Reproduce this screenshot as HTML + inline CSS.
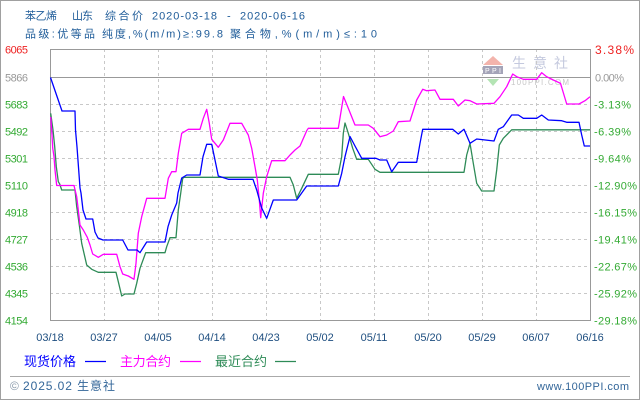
<!DOCTYPE html>
<html>
<head>
<meta charset="utf-8">
<style>
html,body{margin:0;padding:0;background:#fff;}
svg{display:block;}
text{font-family:"Liberation Sans","Noto Sans CJK SC",sans-serif;}
</style>
</head>
<body>
<svg width="640" height="400" viewBox="0 0 640 400" xmlns="http://www.w3.org/2000/svg">
<rect x="0.5" y="0.5" width="639" height="399" fill="#fff" stroke="#a0a0a0" stroke-width="1"/>

<!-- Title -->
<g fill="#1f5c99" font-size="11">
<text x="25" y="19.5" textLength="32">苯乙烯</text>
<text x="72" y="19.5" textLength="21">山东</text>
<text x="105" y="19.5" textLength="38">综合价</text>
<text x="152" y="19.5" textLength="65">2020-03-18</text>
<text x="227" y="19.5" textLength="5">-</text>
<text x="240" y="19.5" textLength="65">2020-06-16</text>
<text x="25" y="37.5" textLength="70">品级:优等品</text>
<text x="102" y="37.5" textLength="121">纯度,%(m/m)≥:99.8</text>
<text x="230" y="37.5" textLength="147">聚合物,%(m/m)≤:10</text>
</g>

<!-- Watermark -->
<g>
<polygon points="493,56 483,65 503,65" fill="#f3b4ac"/>
<rect x="483" y="66" width="20" height="8" fill="#a4a4b8"/>
<text x="485" y="73" font-size="7" fill="#fff" textLength="16">PPI</text>
<polygon points="487,79 499,79 493,86" fill="#b4e4b4"/>
<text x="512" y="68" font-size="14" fill="#c4c9de" letter-spacing="7">生意社</text>
<text x="511" y="85" font-size="8" fill="#c8c8c8" textLength="58">100PPI.COM</text>
</g>

<!-- Grid -->
<g stroke="#c8c8c8" stroke-width="1" stroke-dasharray="3,3" fill="none">
<line x1="50" y1="104.5" x2="590" y2="104.5"/>
<line x1="50" y1="131.5" x2="590" y2="131.5"/>
<line x1="50" y1="158.5" x2="590" y2="158.5"/>
<line x1="50" y1="185.5" x2="590" y2="185.5"/>
<line x1="50" y1="212.5" x2="590" y2="212.5"/>
<line x1="50" y1="239.5" x2="590" y2="239.5"/>
<line x1="50" y1="266.5" x2="590" y2="266.5"/>
<line x1="50" y1="293.5" x2="590" y2="293.5"/>
<line x1="104.5" y1="49" x2="104.5" y2="320"/>
<line x1="158.5" y1="49" x2="158.5" y2="320"/>
<line x1="212.5" y1="49" x2="212.5" y2="320"/>
<line x1="266.5" y1="49" x2="266.5" y2="320"/>
<line x1="320.5" y1="49" x2="320.5" y2="320"/>
<line x1="374.5" y1="49" x2="374.5" y2="320"/>
<line x1="428.5" y1="49" x2="428.5" y2="320"/>
<line x1="482.5" y1="49" x2="482.5" y2="320"/>
<line x1="536.5" y1="49" x2="536.5" y2="320"/>
</g>
<line x1="50" y1="77.5" x2="590" y2="77.5" stroke="#999" stroke-width="1"/>
<rect x="50.5" y="49.5" width="540" height="271" fill="none" stroke="#999" stroke-width="1"/>

<!-- Series -->
<g fill="none" stroke-width="1.3" stroke-linejoin="round">
<polyline stroke="#2e8b57" points="50.7,113.3 53,130 54.7,146.7 56.3,166.7 58.3,181.7 59.7,184 61.7,190 75,190 76.7,206.7 79.3,225 81.7,243.3 86.7,265 91.7,269.3 98.3,272.3 116,272.3 118.3,281.7 121.7,296 125,294 134,294 136.7,283.3 140,268.3 145.7,252.7 165,252.7 166.7,246.7 170,237.7 176,237.7 178.3,210 180.7,193.3 182.7,178.3 184,177.3 290,177.3 293.3,185 296.7,198.3 301.7,188.3 308.3,174.3 338.3,174.3 341.7,156.7 343.3,133.3 345,123 348.3,133.3 352.7,148.3 356.7,159.3 368.3,159.3 375,169.3 380,172.3 464,172.3 466.7,155 470,143.3 473.3,163.3 476.7,183.3 481.7,191 494,191 496.7,170 499.3,145 503.3,138.3 511.7,129.8 590,129.8"/>
<polyline stroke="#ff00ff" points="50.7,117 52,135 52.7,148 54,156.7 55,170 56.7,185.5 74,185.5 76.7,196.7 78.3,210 80,225 83.3,230 87.3,237.3 90,245 92.7,254 98.3,257.3 103.3,254.3 116.7,254.3 120,266.7 122.7,274 128.3,276 134,279.3 136,263.3 138.3,233.3 141.7,216.7 146.7,198.3 165,198.3 168.3,178.3 171.7,171.7 176,171.7 178.3,153.3 181.7,133.3 188.3,129.3 200,129.3 203.3,118.3 206.7,109.3 209.3,123.3 211.7,139.3 218.3,147.3 223.3,140 230,123.3 241.7,123.3 248.3,135 251.7,148.3 255,166.7 257.3,180 259.3,200 260.7,217.7 263.3,193.3 266.7,176.7 271.7,160.7 285,160.7 290,155 295,150 300,146 306.7,130.7 308.3,128.3 338.3,128.3 343.5,96.5 348.3,108.3 355,125 368.3,125 373.3,128.3 380,136.7 386.7,135 393.3,131 398.3,121.7 410,121 416.7,100 422.7,89.3 426.7,90.7 435,90 440,99.3 453.3,99.3 458.3,106 465,100 470,100.7 476.7,104 494,103.3 500,96.7 506.7,86.7 512.7,74 516.7,76.7 523.3,79.3 536.7,79.3 541.7,72.7 546.7,76.7 553.3,80 560.5,83.3 566.7,104 579,104 585,100.7 590,96.7"/>
<polyline stroke="#0000ff" points="50.5,77.5 62,111 75,111 75.5,130 77,147 78.7,170 80,188 81,193 83,210 86,219 92.7,219 95,232 98,238 103,240 122.7,240 128,250 137,250 140,252.7 146.7,242 165,242 168,226.7 171.7,215 176.7,203 178,193 181.7,178 186.7,175 200,175 203,156.7 206.7,144.3 211.7,144.3 215,160 218.3,176 228.3,179.3 253,179.3 256.7,190 261.7,208 266.7,218.3 273.3,200 296.7,200 306.7,186 338.3,186 341.7,173.3 345,156.7 350,136.5 355,146 361.7,158.3 376,158.3 380,160 386.7,160 391.7,171.7 398.3,162.3 416.7,162.3 420,143.3 422.7,129.3 452.7,129.3 458.3,134 464,129.3 470,143.3 476.7,139 494,141 498.3,129.3 503.3,126.7 511.7,115 518.3,115 523.3,118.3 536.7,118.3 541.7,115 548.3,120 561.7,120.7 566.7,122.3 579,122.3 581.7,135 584.3,146 590,146"/>
</g>

<!-- Left axis labels -->
<g font-size="11">
<text x="5" y="53.5" fill="#ee2222" textLength="23">6065</text>
<text x="5" y="81.5" fill="#999999" textLength="23">5866</text>
<g fill="#33aa33">
<text x="5" y="108.5" textLength="23">5683</text>
<text x="5" y="135.5" textLength="23">5492</text>
<text x="5" y="162.5" textLength="23">5301</text>
<text x="5" y="189.5" textLength="23">5110</text>
<text x="5" y="216.5" textLength="23">4918</text>
<text x="5" y="243.5" textLength="23">4727</text>
<text x="5" y="270.5" textLength="23">4536</text>
<text x="5" y="297.5" textLength="23">4345</text>
<text x="5" y="324.5" textLength="23">4154</text>
</g>
</g>

<!-- Right axis labels -->
<g font-size="11">
<text x="595" y="54" fill="#ee2222" font-size="12" textLength="39">3.38%</text>
<text x="595" y="81.5" fill="#999999" textLength="29">0.00%</text>
<g fill="#33aa33">
<text x="594" y="108.5" textLength="37">-3.13%</text>
<text x="594" y="135.5" textLength="37">-6.39%</text>
<text x="594" y="162.5" textLength="37">-9.64%</text>
<text x="594" y="189.5" textLength="43">-12.90%</text>
<text x="594" y="216.5" textLength="43">-16.15%</text>
<text x="594" y="243.5" textLength="43">-19.41%</text>
<text x="594" y="270.5" textLength="43">-22.67%</text>
<text x="594" y="297.5" textLength="43">-25.92%</text>
<text x="594" y="324.5" textLength="43">-29.18%</text>
</g>
</g>

<!-- X axis labels -->
<g font-size="11" fill="#1f4f80" text-anchor="middle">
<text x="50" y="341">03/18</text>
<text x="104" y="341">03/27</text>
<text x="158" y="341">04/05</text>
<text x="212" y="341">04/14</text>
<text x="266" y="341">04/23</text>
<text x="320" y="341">05/02</text>
<text x="374" y="341">05/11</text>
<text x="428" y="341">05/20</text>
<text x="482" y="341">05/29</text>
<text x="536" y="341">06/07</text>
<text x="590" y="341">06/16</text>
</g>

<!-- Legend -->
<g font-size="13">
<text x="24" y="366" fill="#0000ff" textLength="52">现货价格</text>
<line x1="85" y1="361.5" x2="106" y2="361.5" stroke="#0000ff" stroke-width="1.3"/>
<text x="120" y="366" fill="#ff00ff" textLength="51">主力合约</text>
<line x1="180" y1="361.5" x2="201" y2="361.5" stroke="#ff00ff" stroke-width="1.3"/>
<text x="215" y="366" fill="#2e8b57" textLength="52">最近合约</text>
<line x1="275" y1="361.5" x2="296" y2="361.5" stroke="#2e8b57" stroke-width="1.3"/>
</g>

<!-- Footer -->
<line x1="10" y1="376.5" x2="630" y2="376.5" stroke="#aaaaaa" stroke-width="1"/>
<text x="10" y="390" font-size="12" fill="#8899aa">©</text>
<text x="23" y="390" font-size="12" fill="#336699" textLength="92">2025.02 生意社</text>
<text x="537" y="390" font-size="11" fill="#336699" textLength="92">www.100PPI.com</text>
</svg>
</body>
</html>
